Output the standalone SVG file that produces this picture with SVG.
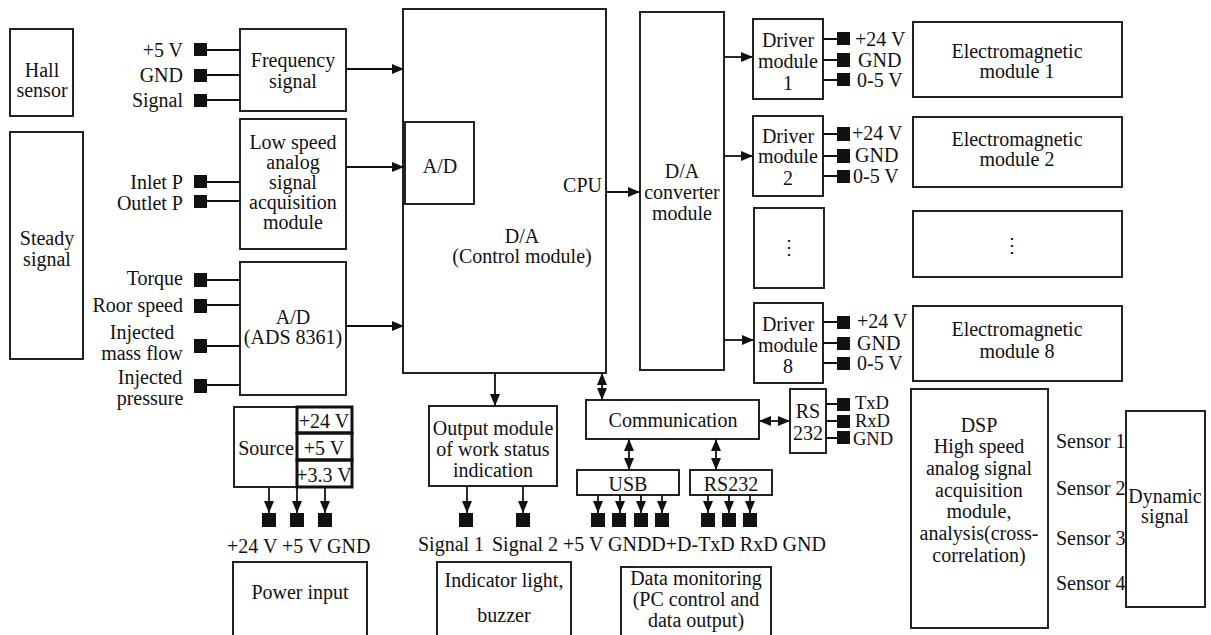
<svg xmlns="http://www.w3.org/2000/svg" width="1211" height="635" viewBox="0 0 1211 635" font-family="'Liberation Serif', 'DejaVu Serif', serif">
<defs>
<marker id="ah" markerUnits="userSpaceOnUse" markerWidth="13" markerHeight="10" refX="12" refY="5" orient="auto-start-reverse"><path d="M0,0 L12,5 L0,10 z" fill="#111"/></marker>
<style>
text{font-family:'Liberation Serif','DejaVu Serif',serif;font-size:20px;fill:#111}
.c{text-anchor:middle}
.e{text-anchor:end}
.s{font-size:18.5px}
.box{fill:none;stroke:#222;stroke-width:2}
.thick{fill:none;stroke:#111;stroke-width:3}
.ln{fill:none;stroke:#111;stroke-width:1.8}
.ar{fill:none;stroke:#111;stroke-width:1.8;marker-end:url(#ah)}
.da{fill:none;stroke:#111;stroke-width:1.8;marker-end:url(#ah);marker-start:url(#ah)}
.sq{fill:#111}
</style>
</defs>
<rect width="1211" height="635" fill="#fff"/>

<g id="hall">
<rect class="box" x="10" y="29" width="63" height="87"/>
<text class="c" x="42" y="77">Hall</text>
<text class="c" x="42" y="97">sensor</text>
</g>
<g id="steady">
<rect class="box" x="10" y="132" width="73" height="227"/>
<text class="c" x="47" y="245">Steady</text>
<text class="c" x="47" y="266">signal</text>
</g>

<g id="freq-terminals">
<rect class="sq" x="194" y="43" width="13" height="13"/>
<rect class="sq" x="194" y="69" width="13" height="13"/>
<rect class="sq" x="194" y="94" width="13" height="13"/>
<text class="e" x="183" y="57">+5 V</text>
<text class="e" x="183" y="82">GND</text>
<text class="e" x="183" y="107">Signal</text>
</g>
<g id="freq">
<rect class="box" x="240" y="29" width="106" height="82"/>
<text class="c" x="293" y="67">Frequency</text>
<text class="c" x="293" y="88">signal</text>
</g>

<g id="lowspeed-terminals">
<rect class="sq" x="194" y="175" width="13" height="13"/>
<rect class="sq" x="194" y="195" width="13" height="13"/>
<text class="e" x="183" y="189">Inlet P</text>
<text class="e" x="183" y="210">Outlet P</text>
</g>
<g id="lowspeed">
<rect class="box" x="240" y="119" width="106" height="130"/>
<text class="c" x="293" y="149">Low speed</text>
<text class="c" x="293" y="169">analog</text>
<text class="c" x="293" y="189">signal</text>
<text class="c" x="293" y="209">acquisition</text>
<text class="c" x="293" y="229">module</text>
</g>

<g id="ad-terminals">
<rect class="sq" x="194" y="273" width="13" height="14"/>
<rect class="sq" x="194" y="299" width="13" height="14"/>
<rect class="sq" x="194" y="339" width="13" height="14"/>
<rect class="sq" x="194" y="379" width="13" height="14"/>
<text class="e" x="183" y="285">Torque</text>
<text class="e" x="183" y="312">Roor speed</text>
<text class="c" x="142" y="339">Injected</text>
<text class="c" x="142" y="360">mass flow</text>
<text class="c" x="150" y="384">Injected</text>
<text class="c" x="150" y="405">pressure</text>
</g>
<g id="ad">
<rect class="box" x="240" y="262" width="106" height="133"/>
<text class="c" x="293" y="324">A/D</text>
<text class="c" x="293" y="344">(ADS 8361)</text>
</g>

<g id="control">
<rect class="box" x="403" y="9" width="203" height="364"/>
<rect class="box" x="405" y="122" width="69" height="82"/>
<text class="c" x="440" y="173">A/D</text>
<text class="e" x="602" y="192">CPU</text>
<text class="c" x="522" y="243">D/A</text>
<text class="c" x="522" y="263">(Control module)</text>
</g>

<g id="daconv">
<rect class="box" x="640" y="12" width="84" height="358"/>
<text class="c" x="682" y="178">D/A</text>
<text class="c" x="682" y="199">converter</text>
<text class="c" x="682" y="220">module</text>
</g>

<g id="driver1">
<rect class="box" x="753" y="19" width="70" height="80"/>
<text class="c" x="788" y="47">Driver</text>
<text class="c" x="788" y="68">module</text>
<text class="c" x="788" y="90">1</text>
</g>
<g id="driver1-terminals">
<rect class="sq" x="837" y="32" width="13" height="13"/>
<rect class="sq" x="837" y="53" width="13" height="14"/>
<rect class="sq" x="837" y="73" width="13" height="13"/>
<text x="855" y="46">+24 V</text>
<text x="858" y="67">GND</text>
<text x="857" y="87">0-5 V</text>
</g>
<g id="driver2">
<rect class="box" x="753" y="116" width="70" height="80"/>
<text class="c" x="788" y="143">Driver</text>
<text class="c" x="788" y="163">module</text>
<text class="c" x="788" y="185">2</text>
</g>
<g id="driver2-terminals">
<rect class="sq" x="837" y="127" width="13" height="14"/>
<rect class="sq" x="837" y="149" width="13" height="14"/>
<rect class="sq" x="837" y="170" width="13" height="13"/>
<text x="852" y="140">+24 V</text>
<text x="855" y="162">GND</text>
<text x="853" y="183">0-5 V</text>
</g>
<g id="driver-dots">
<rect class="box" x="754" y="208" width="70" height="80"/>
<text class="c" x="789" y="254">⋮</text>
</g>
<g id="driver8">
<rect class="box" x="754" y="303" width="69" height="80"/>
<text class="c" x="788" y="331">Driver</text>
<text class="c" x="788" y="352">module</text>
<text class="c" x="788" y="373">8</text>
</g>
<g id="driver8-terminals">
<rect class="sq" x="837" y="316" width="13" height="13"/>
<rect class="sq" x="837" y="337" width="13" height="13"/>
<rect class="sq" x="837" y="357" width="13" height="13"/>
<text x="857" y="328">+24 V</text>
<text x="857" y="350">GND</text>
<text x="857" y="370">0-5 V</text>
</g>

<g id="em1">
<rect class="box" x="913" y="22" width="209" height="75"/>
<text class="c" x="1017" y="58">Electromagnetic</text>
<text class="c" x="1017" y="78">module 1</text>
</g>
<g id="em2">
<rect class="box" x="913" y="117" width="209" height="70"/>
<text class="c" x="1017" y="146">Electromagnetic</text>
<text class="c" x="1017" y="166">module 2</text>
</g>
<g id="em-dots">
<rect class="box" x="913" y="211" width="209" height="66"/>
<text class="c" x="1012" y="252">⋮</text>
</g>
<g id="em8">
<rect class="box" x="913" y="306" width="209" height="75"/>
<text class="c" x="1017" y="336">Electromagnetic</text>
<text class="c" x="1017" y="358">module 8</text>
</g>

<g id="source">
<rect class="box" x="234" y="407" width="118" height="80"/>
<rect class="thick" x="297" y="407" width="55" height="26"/>
<rect class="thick" x="297" y="433" width="55" height="27"/>
<rect class="thick" x="297" y="460" width="55" height="27"/>
<text class="c" x="266" y="455">Source</text>
<text class="c" x="324" y="428">+24 V</text>
<text class="c" x="324" y="455">+5 V</text>
<text class="c" x="324" y="482">+3.3 V</text>
</g>
<g id="source-terminals">
<rect class="sq" x="262" y="513" width="14" height="14"/>
<rect class="sq" x="290" y="513" width="14" height="14"/>
<rect class="sq" x="318" y="513" width="14" height="14"/>
<text x="227" y="553">+24 V +5 V GND</text>
</g>
<g id="power">
<rect class="box" x="233" y="562" width="134" height="80"/>
<text class="c" x="300" y="599">Power input</text>
</g>

<g id="output">
<rect class="box" x="429" y="406" width="128" height="80"/>
<text class="c" x="493" y="435">Output module</text>
<text class="c" x="493" y="456">of work status</text>
<text class="c" x="493" y="477">indication</text>
</g>
<g id="output-terminals">
<rect class="sq" x="459" y="513" width="14" height="14"/>
<rect class="sq" x="516" y="513" width="14" height="14"/>
<text x="418" y="551">Signal 1</text>
<text x="492" y="551">Signal 2</text>
</g>
<g id="indicator">
<rect class="box" x="437" y="562" width="134" height="80"/>
<text class="c" x="504" y="587">Indicator light,</text>
<text class="c" x="504" y="622">buzzer</text>
</g>

<g id="communication">
<rect class="box" x="586" y="400" width="173" height="39"/>
<text class="c" x="673" y="427">Communication</text>
</g>
<g id="rs232a">
<rect class="box" x="790" y="389" width="36" height="64"/>
<text class="c" x="808" y="418">RS</text>
<text class="c" x="808" y="440">232</text>
</g>
<g id="rs232a-terminals">
<rect class="sq" x="837" y="398" width="13" height="13"/>
<rect class="sq" x="837" y="415" width="13" height="13"/>
<rect class="sq" x="837" y="431" width="13" height="13"/>
<text class="s" x="855" y="409">TxD</text>
<text class="s" x="855" y="427">RxD</text>
<text class="s" x="853" y="445">GND</text>
</g>
<g id="usb">
<rect class="box" x="577" y="470" width="102" height="25"/>
<text class="c" x="628" y="491">USB</text>
</g>
<g id="rs232b">
<rect class="box" x="690" y="470" width="82" height="25"/>
<text class="c" x="731" y="491">RS232</text>
</g>
<g id="comm-terminals">
<rect class="sq" x="591" y="513" width="14" height="14"/>
<rect class="sq" x="612" y="513" width="14" height="14"/>
<rect class="sq" x="634" y="513" width="14" height="14"/>
<rect class="sq" x="655" y="513" width="14" height="14"/>
<rect class="sq" x="701" y="513" width="14" height="14"/>
<rect class="sq" x="722" y="513" width="14" height="14"/>
<rect class="sq" x="743" y="513" width="14" height="14"/>
<text x="563" y="551">+5 V GNDD+D-TxD RxD GND</text>
</g>
<g id="datamon">
<rect class="box" x="621" y="567" width="150" height="80"/>
<text class="c" x="696" y="585">Data monitoring</text>
<text class="c" x="696" y="606">(PC control and</text>
<text class="c" x="696" y="627">data output)</text>
</g>

<g id="dsp">
<rect class="box" x="911" y="389" width="137" height="239"/>
<text class="c" x="979" y="432">DSP</text>
<text class="c" x="979" y="453">High speed</text>
<text class="c" x="979" y="475">analog signal</text>
<text class="c" x="979" y="497">acquisition</text>
<text class="c" x="979" y="518">module,</text>
<text class="c" x="979" y="540">analysis(cross-</text>
<text class="c" x="979" y="562">correlation)</text>
</g>
<g id="sensors">
<text x="1056" y="448">Sensor 1</text>
<text x="1056" y="495">Sensor 2</text>
<text x="1056" y="545">Sensor 3</text>
<text x="1056" y="590">Sensor 4</text>
</g>
<g id="dynamic">
<rect class="box" x="1126" y="411" width="79" height="196"/>
<text class="c" x="1165" y="503">Dynamic</text>
<text class="c" x="1165" y="523">signal</text>
</g>

<g id="connectors">
<path class="ln" d="M207,50 H240 M207,75 H240 M207,100 H240"/>
<path class="ln" d="M207,182 H240 M207,201 H240"/>
<path class="ln" d="M207,280 H240 M207,305 H240 M207,346 H240 M207,385 H240"/>
<path class="ar" d="M346,69 H404"/>
<path class="ar" d="M346,167 H404"/>
<path class="ar" d="M346,326 H404"/>
<path class="ar" d="M606,192 H640"/>
<path class="ar" d="M724,57 H753"/>
<path class="ar" d="M724,156 H753"/>
<path class="ar" d="M724,340 H754"/>
<path class="ln" d="M823,39 H837 M823,60 H837 M823,80 H837"/>
<path class="ln" d="M823,134 H837 M823,156 H837 M823,176 H837"/>
<path class="ln" d="M823,322 H837 M823,343 H837 M823,363 H837"/>
<path class="ar" d="M495,373 V406"/>
<path class="da" d="M602,373 V400"/>
<path class="da" d="M759,421 H790"/>
<path class="ln" d="M826,404 H837 M826,421 H837 M826,438 H837"/>
<path class="da" d="M629,439 V470"/>
<path class="da" d="M716,439 V470"/>
<path class="ar" d="M269,487 V513"/>
<path class="ar" d="M297,487 V513"/>
<path class="ar" d="M325,487 V513"/>
<path class="ar" d="M467,486 V513"/>
<path class="ar" d="M523,486 V513"/>
<path class="ar" d="M598,495 V513"/>
<path class="ar" d="M620,495 V513"/>
<path class="ar" d="M641,495 V513"/>
<path class="ar" d="M662,495 V513"/>
<path class="ar" d="M708,495 V513"/>
<path class="ar" d="M729,495 V513"/>
<path class="ar" d="M750,495 V513"/>
</g>
</svg>
